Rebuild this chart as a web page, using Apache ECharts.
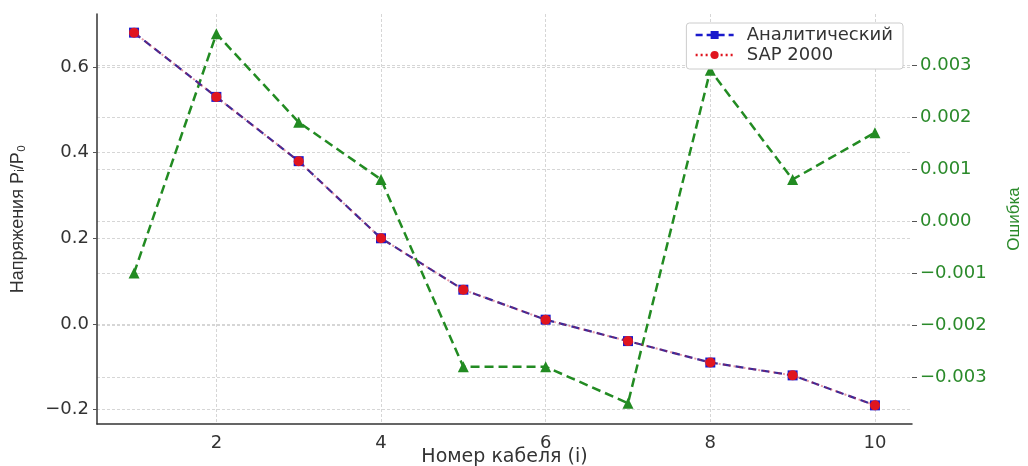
<!DOCTYPE html>
<html>
<head>
<meta charset="utf-8">
<script src="https://cdn.jsdelivr.net/npm/echarts@6/dist/echarts.min.js"></script>
<style>
  html, body { margin: 0; padding: 0; background: #fff; }
  #chart { width: 1028px; height: 466px; }
</style>
</head>
<body>
<div id="chart"></div>
<script>
  var cables = [1, 2, 3, 4, 5, 6, 7, 8, 9, 10];
  var analytic = [0.68, 0.53, 0.38, 0.20, 0.08, 0.01, -0.04, -0.09, -0.12, -0.19];
  var sap2000 = [0.68, 0.53, 0.38, 0.20, 0.08, 0.01, -0.04, -0.09, -0.12, -0.19];
  var errors = [-0.0010, 0.0036, 0.0019, 0.0008, -0.0028, -0.0028, -0.0035, 0.0029, 0.0008, 0.0017];

  var xTicks = [2, 4, 6, 8, 10];
  var leftTicks = [-0.2, 0.0, 0.2, 0.4, 0.6];
  var rightTicks = [-0.003, -0.002, -0.001, 0.000, 0.001, 0.002, 0.003];

  function pairs(ys) {
    return cables.map(function(x, i) { return [x, ys[i]]; });
  }

  // matplotlib style minus sign
  function minus(v, digits) {
    return v.toFixed(digits).replace('-', '\u2212');
  }

  var font = 'DejaVu Sans';
  var nameFont = 'Liberation Sans';
  var green = '#2a8a2a';
  var grid = { type: [3, 2], color: '#d6d6d6', width: 1 };

  var chart = echarts.init(document.getElementById('chart'));

  chart.setOption({
    animation: false,
    textStyle: { fontFamily: font },
    grid: { left: 97, right: 116, top: 14, bottom: 42, containLabel: false, outerBoundsMode: 'none' },
    legend: {
      right: 125,
      top: 23,
      orient: 'vertical',
      itemGap: 2,
      itemWidth: 38,
      itemHeight: 10,
      padding: [3, 10, 5, 8],
      borderColor: '#cccccc',
      borderWidth: 1,
      borderRadius: 3,
      backgroundColor: '#fff',
      textStyle: { fontSize: 18, color: '#333', fontFamily: font, padding: [0, 0, 0, 8] },
      data: [
        { name: 'Аналитический', lineStyle: { color: '#1a1acc', type: [7, 4], width: 2.5 } },
        { name: 'SAP 2000', lineStyle: { color: '#e0151f', type: [2, 3], width: 2.5 } }
      ]
    },
    xAxis: {
      type: 'value',
      min: 0.55,
      max: 10.45,
      name: 'Номер кабеля (i)',
      nameLocation: 'middle',
      nameGap: 24,
      nameMoveOverlap: false,
      nameTextStyle: { fontSize: 19, color: '#333' },
      axisLine: { onZero: false, lineStyle: { color: '#333', width: 1.5 } },
      axisTick: { show: false, customValues: xTicks },
      axisLabel: { customValues: xTicks, fontSize: 18, color: '#333', margin: 10 },
      splitLine: { show: true, lineStyle: grid }
    },
    yAxis: [{
      type: 'value',
      min: -0.2335,
      max: 0.7235,
      name: 'Напряжения Pᵢ/P₀',
      nameLocation: 'middle',
      nameGap: 70,
      nameMoveOverlap: false,
      nameTextStyle: { fontSize: 18, color: '#333', fontFamily: nameFont },
      axisLine: { show: true, onZero: false, lineStyle: { color: '#333', width: 1.5 } },
      axisTick: { show: true, customValues: leftTicks, length: 4, lineStyle: { color: '#555' } },
      axisLabel: {
        customValues: leftTicks, fontSize: 18, color: '#333', margin: 8,
        formatter: function(v) { return minus(v, 1); }
      },
      splitLine: { show: true, lineStyle: grid }
    }, {
      type: 'value',
      position: 'right',
      min: -0.0039,
      max: 0.00398,
      name: 'Ошибка',
      nameLocation: 'middle',
      nameGap: 94,
      nameMoveOverlap: false,
      nameRotate: 90,
      nameTextStyle: { fontSize: 17, color: green, fontFamily: nameFont },
      axisLine: { show: false },
      axisTick: { show: true, customValues: rightTicks, length: 5, lineStyle: { color: '#555' } },
      axisLabel: {
        customValues: rightTicks, fontSize: 18, color: green, margin: 8,
        formatter: function(v) { return minus(v, 3); }
      },
      splitLine: { show: true, lineStyle: grid }
    }],
    series: [{
      name: 'Аналитический',
      type: 'line',
      data: pairs(analytic),
      symbol: 'rect',
      symbolSize: 10,
      itemStyle: { color: '#1a1acc' },
      lineStyle: { color: '#3a2a9a', type: [8, 5], width: 2.2 },
      z: 3
    }, {
      name: 'SAP 2000',
      type: 'line',
      data: pairs(sap2000),
      symbol: 'circle',
      symbolSize: 10,
      itemStyle: { color: '#e0151f' },
      lineStyle: { color: 'rgba(200,30,60,0.45)', type: [2, 3], width: 2 },
      z: 4
    }, {
      name: 'Ошибка',
      type: 'line',
      yAxisIndex: 1,
      data: pairs(errors),
      symbol: 'triangle',
      symbolSize: 11,
      itemStyle: { color: '#228b22' },
      lineStyle: { color: '#228b22', type: [9, 5], width: 2.5 },
      z: 2
    }]
  });
</script>
</body>
</html>
